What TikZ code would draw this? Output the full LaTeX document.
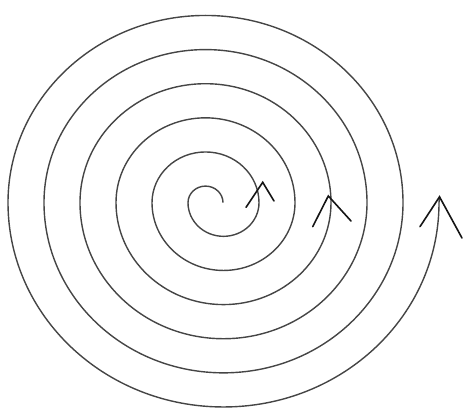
\documentclass[tikz,border=0pt]{standalone}
\usepackage{tikz}
\usetikzlibrary{arrows.meta}
\definecolor{SPInk}{HTML}{454545}
\definecolor{SPMark}{HTML}{151515}
\tikzset{
  spiralline/.style={SPInk,line width=1.4pt},
  chevron/.style={SPMark,line width=1.6pt,line join=miter,line cap=round},
}
\begin{document}
\begin{tikzpicture}[x=1pt,y=1pt,yscale=0.948]
    \useasboundingbox (0,-220.8) rectangle (465,213.8);

    % ------------------------------------------------ half-circle spiral
    \coordinate (start) at (223,0);
    \draw[spiralline] (start)
      arc[start angle=0,end angle=180,radius=17.5]
      arc[start angle=180,end angle=360,radius=35.5]
      arc[start angle=0,end angle=180,radius=53.5]
      arc[start angle=180,end angle=360,radius=71.5]
      arc[start angle=0,end angle=180,radius=89.5]
      arc[start angle=180,end angle=360,radius=107.5]
      arc[start angle=0,end angle=180,radius=125.5]
      arc[start angle=180,end angle=360,radius=143.5]
      arc[start angle=0,end angle=180,radius=161.5]
      arc[start angle=180,end angle=360,radius=179.5]
      arc[start angle=0,end angle=180,radius=197.5]
      arc[start angle=180,end angle=360,radius=215.5]
      -- (439.5,6.2) coordinate (tip);

    % ------------------------------------------------ direction marks
    \coordinate (innerapex)  at (262.7,21.5);
    \coordinate (middleapex) at (328.3,7.1);
    \draw[chevron] (246,-4.9) -- (innerapex) -- (274,1.8);
    \draw[chevron] (312.7,-25.3) -- (middleapex) -- (351,-19.3);
    \draw[chevron] (420,-25.3) -- (tip) -- (462,-37.3);
\end{tikzpicture}
\end{document}
